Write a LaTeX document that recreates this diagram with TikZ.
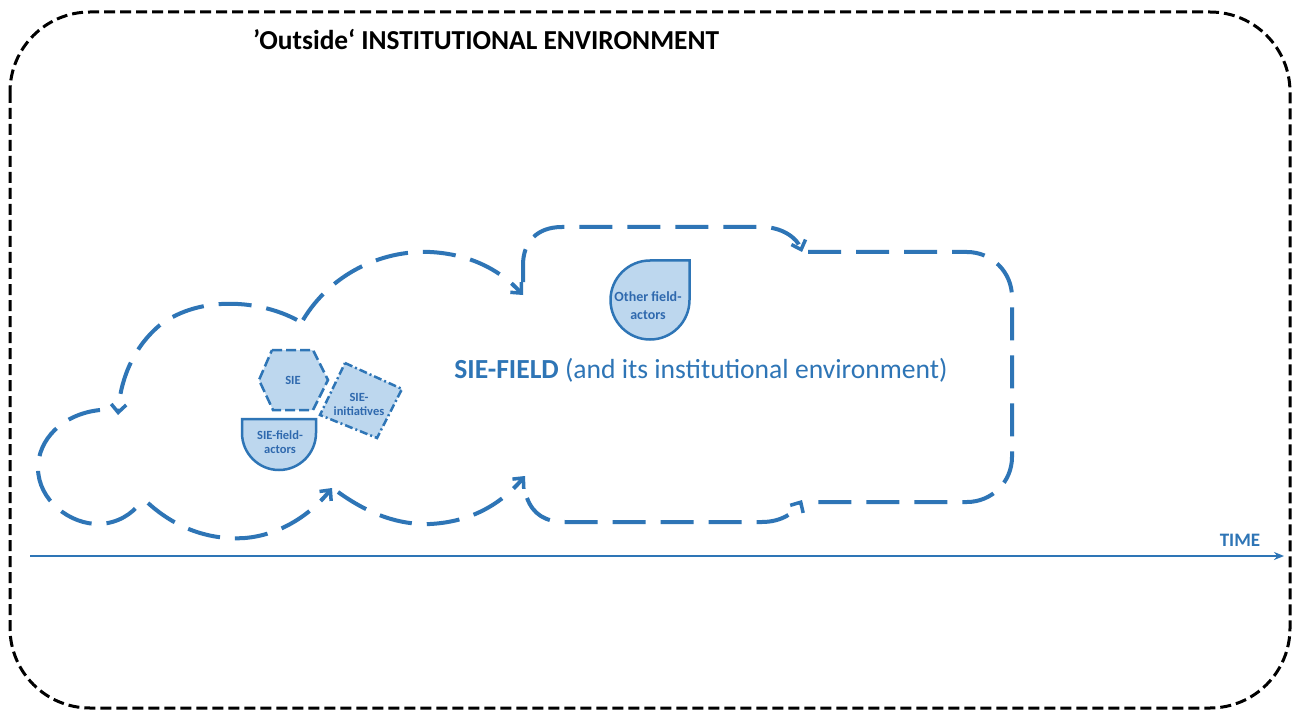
\documentclass[tikz,border=0pt]{standalone}
\usepackage{fontspec}
\setmainfont{Carlito}
\usetikzlibrary{arrows.meta}
\definecolor{fblue}{HTML}{2E75B6}
\definecolor{ffill}{HTML}{BDD7EE}
\definecolor{ftext}{HTML}{2F69AE}
\begin{document}
\begin{tikzpicture}[x=1pt,y=-1pt,
  outer/.style={draw=black,line width=3pt,dash pattern=on 11pt off 5pt},
  cloud/.style={draw=fblue,line width=4pt,dash pattern=on 33pt off 15pt},
  cloudarrow/.style={cloud,-{Straight Barb[length=8pt,width=15pt,line width=3.5pt]}},
  hexa/.style={draw=fblue,fill=ffill,line width=2.5pt,dash pattern=on 10pt off 4pt},
  quad/.style={draw=fblue,fill=ffill,line width=2.5pt,dash pattern=on 8pt off 3pt on 2pt off 3pt},
  solidshape/.style={draw=fblue,fill=ffill,line width=2.5pt},
  timeline/.style={draw=fblue,line width=2pt,-{Stealth[length=10pt,width=8pt]}},
  lbl/.style={font=\fontsize{12.5}{14}\selectfont\bfseries,text=ftext,align=center,inner sep=0pt},
  lbltwo/.style={font=\fontsize{14}{18}\selectfont\bfseries,text=ftext,align=center,inner sep=0pt}]
\useasboundingbox (0,0) rectangle (1295,711);
\fill[white] (0,0) rectangle (1295,711);
% outer environment
\draw[outer, rounded corners=80pt] (10,12) rectangle (1290,708);
\node[font=\fontsize{27.4}{31}\selectfont\bfseries, anchor=base west, inner sep=0pt] (title) at (253,50) {’Outside‘ INSTITUTIONAL ENVIRONMENT};
% time axis
\coordinate (t0) at (30,556);
\coordinate (t1) at (1284,556);
\draw[timeline] (t0) -- (t1);
\node[font=\fontsize{19}{21}\selectfont\bfseries, text=fblue, anchor=base, inner sep=0pt] (time) at (1240,546) {TIME};
% growing field (cloud arcs)
\draw[cloud] (100,410) .. controls (62,414) and (38,440) .. (38,468) .. controls (38,500) and (70,525) .. (100,524) .. controls (118,523) and (132,514) .. (140,503);
\draw[cloudarrow] (148,503) .. controls (180,532) and (215,540) .. (245,538) .. controls (280,535) and (310,515) .. (332,488);
\draw[cloudarrow] (338,492) .. controls (370,515) and (400,525) .. (430,524) .. controls (470,522) and (500,505) .. (525,476);
\draw[cloudarrow] (297,320) .. controls (260,300) and (200,295) .. (160,325) .. controls (130,350) and (120,385) .. (118,415);
\draw[cloudarrow] (303,320) .. controls (330,275) and (380,250) .. (430,252) .. controls (470,254) and (500,270) .. (523,295);
\draw[cloudarrow] (523,282) -- (523,265) .. controls (523,242) and (537,227) .. (562,227) -- (762,227) .. controls (782,227) and (797,238) .. (802,252);
\draw[cloudarrow] (527,498) .. controls (533,514) and (545,522) .. (565,522) -- (762,522) .. controls (782,522) and (795,512) .. (802,500);
\draw[cloud, rounded corners=45pt] (808,252) -- (1012,252) -- (1012,502) -- (808,502);
% actors
\draw[hexa] (272,350) -- (313,350) -- (328,380) -- (313,410) -- (273,410) -- (259,380) -- cycle;
\draw[quad] (345,363) -- (402,389) -- (377,438) -- (320,415) -- cycle;
\draw[solidshape] (242,419) -- (316,419) -- (316,433) .. controls (316,453.4) and (299.4,470) .. (279,470) .. controls (258.6,470) and (242,453.4) .. (242,433) -- cycle;
\draw[solidshape] (689.5,260.5) -- (689.5,300) .. controls (689.5,321.8) and (671.8,339.5) .. (650,339.5) .. controls (628.2,339.5) and (610.5,321.8) .. (610.5,300) .. controls (610.5,278.2) and (628.2,260.5) .. (650,260.5) -- cycle;
\node[lbl] (sie) at (293,380) {SIE};
\node[lbl] (sieinit) at (359,404) {SIE-\\initiatives};
\node[lbl] (sieactors) at (280,442) {SIE-field-\\actors};
\node[lbltwo] (other) at (648,306) {Other field-\\actors};
\node[font=\fontsize{27.6}{31}\selectfont, text=fblue, anchor=base, inner sep=0pt] (field) at (701,378) {\textbf{SIE-FIELD} (and its institutional environment)};
\end{tikzpicture}
\end{document}
